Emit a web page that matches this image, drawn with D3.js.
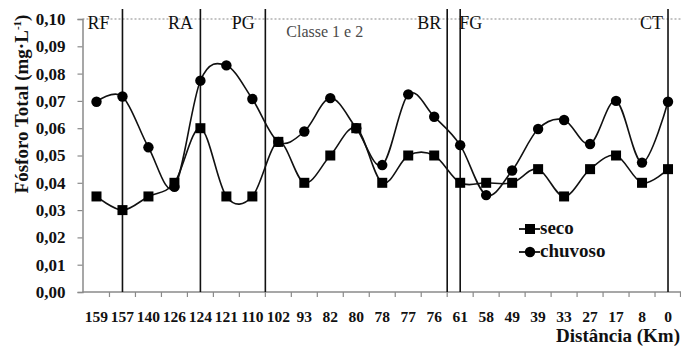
<!DOCTYPE html>
<html>
<head>
<meta charset="utf-8">
<script src="https://cdn.jsdelivr.net/npm/d3@7"></script>
</head>
<body style="margin:0;padding:0;background:#fff">
<svg id="chart" width="681" height="347" style="display:block;font-family:'Liberation Serif'"></svg>
<script>
// Sampling stations along the river, by distance to the mouth (km)
const distances = ["159","157","140","126","124","121","110","102","93","82","80","78",
                   "77","76","61","58","49","39","33","27","17","8","0"];

// Total phosphorus (mg·L-1), dry season
const seco = [0.035,0.030,0.035,0.040,0.060,0.035,0.035,0.055,0.040,0.050,0.060,0.040,
              0.050,0.050,0.040,0.040,0.040,0.045,0.035,0.045,0.050,0.040,0.045];

// Total phosphorus (mg·L-1), rainy season
const chuvoso = [0.0697,0.0716,0.053,0.0385,0.0774,0.0830,0.0707,0.055,0.0588,0.0710,0.060,0.0465,
                 0.0724,0.0642,0.0538,0.0355,0.0445,0.0597,0.0630,0.0542,0.0700,0.0474,0.0697];

const yTicks = [0,0.01,0.02,0.03,0.04,0.05,0.06,0.07,0.08,0.09,0.10];

// Reach divisions: a station and whether the divider sits on it or just before it
const dividers = [
  { station: "157", where: "on" },
  { station: "124", where: "on" },
  { station: "102", where: "before" },
  { station: "61",  where: "before" },
  { station: "61",  where: "on" },
  { station: "0",   where: "on" }
];

const FONT = "Liberation Serif";
const INK = "#111";
const AXIS = "#8a8a8a";

const svg = d3.select("#chart");
const plot = { left: 82.5, right: 681, top: 19, bottom: 292 };

const x = d3.scaleBand().domain(distances).range([plot.left + 1, plot.right]).padding(0);
const cx = d => x(d) + x.bandwidth() / 2;
const y = d3.scaleLinear().domain([0, 0.1]).range([plot.bottom, plot.top]);

const ptBR = d3.formatLocale({ decimal: ",", thousands: ".", grouping: [3], currency: ["R$", ""] });
const fmt = ptBR.format(".2f");

// shared text styling
function label(sel, size, weight, color) {
  return sel.attr("font-family", FONT)
    .style("font-family", FONT)
    .style("font-size", size + "px")
    .style("font-weight", weight)
    .attr("fill", color || INK);
}

// Reference line at the top of the scale
svg.append("line")
  .attr("x1", plot.left).attr("x2", plot.right)
  .attr("y1", y(0.1)).attr("y2", y(0.1))
  .attr("stroke", AXIS).attr("stroke-width", 1.2)
  .attr("stroke-dasharray", "2,2");

// Y axis
const yAxis = svg.append("g")
  .attr("transform", `translate(${plot.left},0)`)
  .call(d3.axisLeft(y).tickValues(yTicks).tickFormat(fmt).tickSize(5).tickPadding(12));
yAxis.attr("font-family", FONT);
yAxis.select(".domain").attr("stroke", AXIS).attr("stroke-width", 1.5);
yAxis.selectAll(".tick line").attr("stroke", AXIS).attr("stroke-width", 1.2);
label(yAxis.selectAll(".tick text"), 17, "bold");

// X axis: labels under each station, tick marks on the band edges
const xAxis = svg.append("g")
  .attr("transform", `translate(0,${plot.bottom})`)
  .call(d3.axisBottom(x).tickSize(0).tickPadding(19));
xAxis.attr("font-family", FONT);
xAxis.select(".domain").remove();
label(xAxis.selectAll(".tick text"), 15.5, "bold");

svg.append("line")
  .attr("x1", plot.left).attr("x2", plot.right)
  .attr("y1", plot.bottom).attr("y2", plot.bottom)
  .attr("stroke", AXIS).attr("stroke-width", 1.5);
svg.append("g").selectAll("line")
  .data(distances.slice(1))
  .join("line")
  .attr("x1", d => x(d)).attr("x2", d => x(d))
  .attr("y1", plot.bottom).attr("y2", plot.bottom + 5)
  .attr("stroke", AXIS).attr("stroke-width", 1.2);
svg.append("line")
  .attr("x1", plot.right - 0.5).attr("x2", plot.right - 0.5)
  .attr("y1", plot.bottom).attr("y2", plot.bottom + 5)
  .attr("stroke", AXIS).attr("stroke-width", 1.2);

// Axis titles
const yTitle = label(svg.append("text"), 19, "bold")
  .attr("transform", "translate(28,104) rotate(-90)")
  .attr("text-anchor", "middle");
yTitle.append("tspan").text("Fósforo  Total (mg·L");
yTitle.append("tspan").attr("dy", -7).style("font-size", "11px").text("-1");
yTitle.append("tspan").attr("dy", 7).text(")");

label(svg.append("text"), 19, "bold")
  .attr("x", 680).attr("y", 342)
  .attr("text-anchor", "end")
  .text("Distância (Km)");

// Reach dividers
svg.append("g").selectAll("line")
  .data(dividers)
  .join("line")
  .attr("x1", d => d.where === "on" ? cx(d.station) : x(d.station))
  .attr("x2", d => d.where === "on" ? cx(d.station) : x(d.station))
  .attr("y1", 9).attr("y2", plot.bottom)
  .attr("stroke", INK).attr("stroke-width", 1.6);

// Reach names
const reach = svg.append("g");
label(reach.append("text"), 18, "normal").attr("x", cx("159") - 9).attr("y", 29).text("RF");
label(reach.append("text"), 18, "normal").attr("x", cx("126") + 6).attr("y", 29).attr("text-anchor", "middle").text("RA");
label(reach.append("text"), 18, "normal").attr("x", x("110") + 4).attr("y", 29).attr("text-anchor", "middle").text("PG");
label(reach.append("text"), 16, "normal", "#4a4a4a").attr("x", x("102") + 21).attr("y", 37).text("Classe  1 e 2");
label(reach.append("text"), 18, "normal").attr("x", x("61") - 6).attr("y", 29).attr("text-anchor", "end").text("BR");
label(reach.append("text"), 18, "normal").attr("x", cx("61") - 1).attr("y", 29).text("FG");
label(reach.append("text"), 18, "normal").attr("x", cx("0") - 5).attr("y", 29).attr("text-anchor", "end").text("CT");

// Series lines (smoothed) and markers
const line = d3.line()
  .x((d, i) => cx(distances[i]))
  .y(d => y(d))
  .curve(d3.curveCatmullRom.alpha(0));

svg.append("path").datum(seco).attr("d", line)
  .attr("fill", "none").attr("stroke", INK).attr("stroke-width", 1.6);
svg.append("path").datum(chuvoso).attr("d", line)
  .attr("fill", "none").attr("stroke", INK).attr("stroke-width", 1.6);

svg.append("g").selectAll("circle")
  .data(chuvoso)
  .join("circle")
  .attr("cx", (d, i) => cx(distances[i]))
  .attr("cy", d => y(d))
  .attr("r", 5.2)
  .attr("fill", "#000");

svg.append("g").selectAll("rect")
  .data(seco)
  .join("rect")
  .attr("x", (d, i) => cx(distances[i]) - 5)
  .attr("y", d => y(d) - 5)
  .attr("width", 10).attr("height", 10)
  .attr("fill", "#000");

// Legend
const legend = svg.append("g").attr("transform", "translate(519,0)");
legend.append("line").attr("x1", 0).attr("x2", 21).attr("y1", 229).attr("y2", 229)
  .attr("stroke", INK).attr("stroke-width", 1.8);
legend.append("rect").attr("x", 6).attr("y", 224).attr("width", 10).attr("height", 10).attr("fill", "#000");
label(legend.append("text"), 19, "bold").attr("x", 21).attr("y", 234).text("seco");
legend.append("line").attr("x1", 0).attr("x2", 21).attr("y1", 252).attr("y2", 252)
  .attr("stroke", INK).attr("stroke-width", 1.8);
legend.append("circle").attr("cx", 11).attr("cy", 252).attr("r", 5.2).attr("fill", "#000");
label(legend.append("text"), 19, "bold").attr("x", 21).attr("y", 257).text("chuvoso");
</script>
</body>
</html>
